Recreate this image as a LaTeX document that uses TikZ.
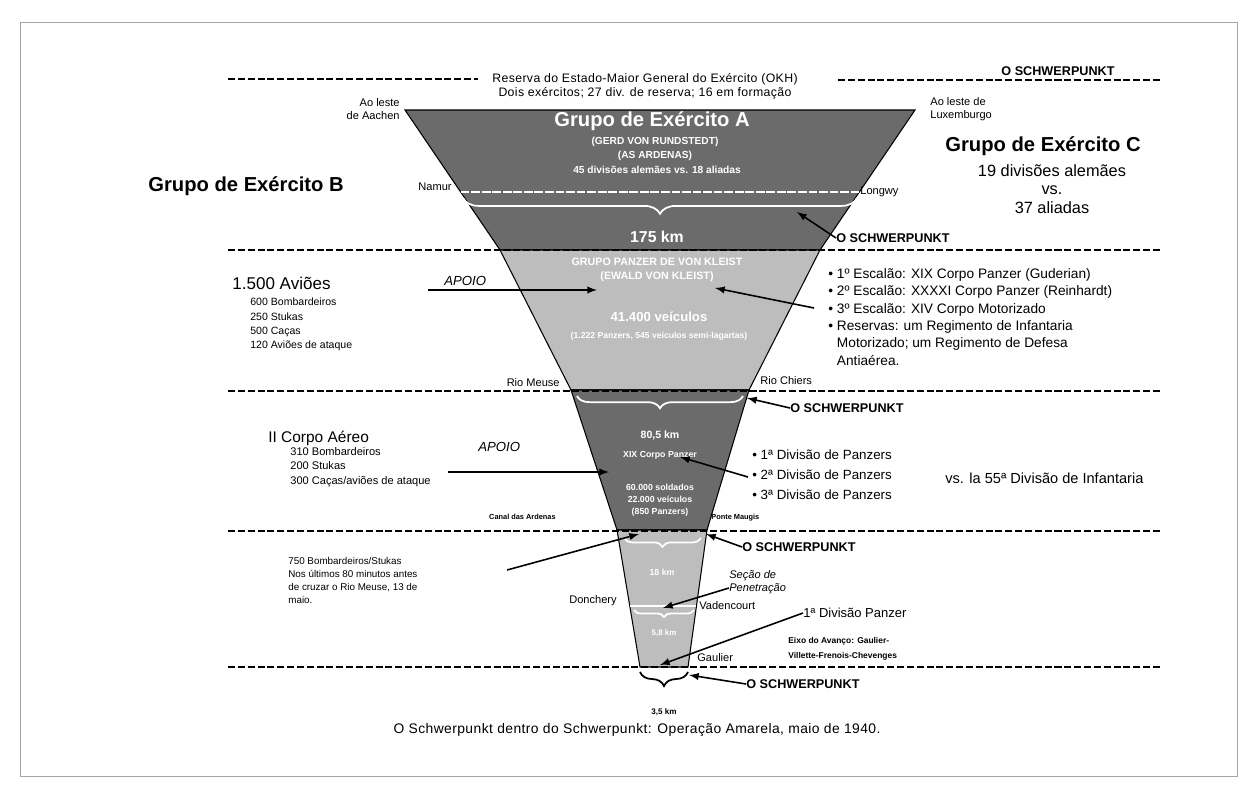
\documentclass[tikz,border=0pt]{standalone}
\usepackage{fontspec}
\setmainfont{Liberation Sans}
\newfontfamily\scanfont[LetterSpace=3]{Liberation Sans}
\usetikzlibrary{positioning,calc,arrows,decorations.pathreplacing}

\begin{document}
\begin{tikzpicture}[
  x=0.02cm,y=-0.02cm,
  every node/.style={inner sep=0pt,font=\fontsize{6}{8}\selectfont},
  band-dark/.style={fill=black!58,draw=black,line width=0.6pt},
  band-light/.style={fill=black!26,draw=black,line width=0.6pt},
  cut-line/.style={draw,line width=0.8pt,dash pattern=on 4pt off 1.6pt},
  pt-arrow/.style={draw,line width=0.9pt,-latex},
  white-brace/.style={draw=white,line width=1pt,decorate,decoration={brace,mirror,amplitude=#1}},
  band-text/.style={text=white,font=\bfseries\fontsize{5.8}{7}\selectfont,align=center},
  big-title/.style={font=\bfseries\fontsize{11.5}{13}\selectfont},
  mid-title/.style={font=\fontsize{9.3}{10.5}\selectfont},
  small-list/.style={font=\fontsize{6}{8}\selectfont,align=left},
  bullet-list/.style={font=\fontsize{7.8}{9.9}\selectfont,align=left},
  place-name/.style={font=\fontsize{6.3}{7.8}\selectfont},
  tiny-place/.style={font=\bfseries\fontsize{4.2}{5}\selectfont},
  sp-label/.style={font=\bfseries\fontsize{7.2}{8}\selectfont},
  apoio/.style={font=\itshape\fontsize{7.5}{9}\selectfont},
  ]

  \useasboundingbox (0,0) rectangle (1256,794);
  \draw [black!35,line width=0.5pt] (20,22) rectangle (1237,776);

  % funnel corners
  \coordinate (f1-tl) at (405,110);  \coordinate (f1-tr) at (915,110);
  \coordinate (f1-bl) at (500,250);  \coordinate (f1-br) at (820,250);
  \coordinate (f2-bl) at (571,390);  \coordinate (f2-br) at (749,390);
  \coordinate (f3-bl) at (617,530);  \coordinate (f3-br) at (707,530);
  \coordinate (f4-bl) at (640,667);  \coordinate (f4-br) at (688,667);

  \path [band-dark]  (f1-tl) -- (f1-tr) -- (f1-br) -- (f1-bl) -- cycle;
  \path [band-light] (f1-bl) -- (f1-br) -- (f2-br) -- (f2-bl) -- cycle;
  \path [band-dark]  (f2-bl) -- (f2-br) -- (f3-br) -- (f3-bl) -- cycle;
  \path [band-light] (f3-bl) -- (f3-br) -- (f4-br) -- (f4-bl) -- cycle;

  % Namur -- Longwy line and the section line in the last band
  \draw [white,line width=1.2pt,dash pattern=on 5pt off 1pt] ($(f1-tl)!0.586!(f1-bl)$) -- ($(f1-tr)!0.586!(f1-br)$);
  \draw [white,line width=1pt] ($(f3-bl)!0.555!(f4-bl)$) -- ($(f3-br)!0.555!(f4-br)$);

  % braces
  \draw [white-brace=9pt]  (463,198) -- (857,198);
  \draw [white-brace=7pt]  (577,396) -- (743,396);
  \draw [white-brace=5pt]  (624,538) -- (701,538);
  \draw [white-brace=4pt]  (634,610) -- (694,610);
  \draw [line width=1pt,decorate,decoration={brace,mirror,amplitude=8pt}] (640,672) -- (688,672);

  % horizontal cuts
  \draw [cut-line] (228,79) -- (478,79);
  \draw [cut-line] (838,80) -- (1160,80);
  \foreach \ycut in {250,391,531,667}
    \draw [cut-line] (228,\ycut) -- (1160,\ycut);

  % top
  \node [align=center,font=\scanfont\fontsize{7}{8}\selectfont] (okh) at (645,86)
    {Reserva do Estado-Maior General do Exército (OKH)\\Dois exércitos; 27 div. de reserva; 16 em formação};
  \node [sp-label,anchor=south] (sp-top) at (1058,76) {O SCHWERPUNKT};
  \node [place-name,align=right,anchor=east] (aachen) at (400,109) {Ao leste\\de Aachen};
  \node [place-name,align=left,anchor=west] (luxemb) at (930,109) {Ao leste de\\Luxemburgo};

  % Grupo de Exercito A
  \node [big-title,text=white] (grp-a) at (652,121) {Grupo de Exército A};
  \node [band-text] (grp-a-cmd) at (655,142) {(GERD VON RUNDSTEDT)};
  \node [band-text] (grp-a-ard) at (655,156) {(AS ARDENAS)};
  \node [band-text] (grp-a-div) at (657,170) {45 divisões alemães vs. 18 aliadas};
  \node [place-name,anchor=east] (namur) at (452,187) {Namur};
  \node [place-name,anchor=west] (longwy) at (860,192) {Longwy};
  \node [text=white,font=\bfseries\fontsize{9}{10}\selectfont] (km-175) at (657,237) {175 km};

  % Grupo de Exercito B / C
  \node [big-title,anchor=west] (grp-b) at (148,186) {Grupo de Exército B};
  \node [big-title,anchor=west] (grp-c) at (945,146) {Grupo de Exército C};
  \node [mid-title,align=center] (grp-c-div) at (1052,189) {19 divisões alemães\\vs.\\37 aliadas};

  \node [sp-label,anchor=west] (sp-1) at (836,238) {O SCHWERPUNKT};
  \coordinate (sp-1-tip) at (797,212);
  \draw [pt-arrow] (sp-1.west) -- (sp-1-tip);

  % Grupo Panzer
  \node [band-text,font=\bfseries\fontsize{6.1}{7}\selectfont] (kleist) at (657,262) {GRUPO PANZER DE VON KLEIST};
  \node [band-text,font=\bfseries\fontsize{6.1}{7}\selectfont] (kleist-cmd) at (657,277) {(EWALD VON KLEIST)};
  \node [band-text,font=\bfseries\fontsize{7.5}{9}\selectfont] (veh) at (659,317) {41.400 veículos};
  \node [band-text,font=\bfseries\fontsize{4.9}{6}\selectfont] (veh-det) at (659,336) {(1.222 Panzers, 545 veículos semi-lagartas)};

  \node [mid-title,anchor=west,font=\fontsize{9.7}{11}\selectfont] (avioes) at (232,283) {1.500 Aviões};
  \node [small-list,anchor=north west] (avioes-list) at (250,298)
    {600 Bombardeiros\\250 Stukas\\500 Caças\\120 Aviões de ataque};
  \node [apoio,anchor=west] (apoio-1) at (444,281) {APOIO};
  \coordinate (apoio-1-from) at (428,290);
  \coordinate (apoio-1-tip) at (597,290);
  \draw [pt-arrow] (apoio-1-from) -- (apoio-1-tip);

  \node [bullet-list,anchor=north west] (escaloes) at (828,268)
    {• 1º Escalão: XIX Corpo Panzer (Guderian)\\
     • 2º Escalão: XXXXI Corpo Panzer (Reinhardt)\\
     • 3º Escalão: XIV Corpo Motorizado\\
     • Reservas: um Regimento de Infantaria\\
     \phantom{• }Motorizado; um Regimento de Defesa\\
     \phantom{• }Antiaérea.};
  \coordinate (esc-from) at (814,308);
  \coordinate (esc-tip) at (715,288);
  \draw [pt-arrow] (esc-from) -- (esc-tip);

  \node [place-name,anchor=east] (meuse) at (560,383) {Rio Meuse};
  \node [place-name,anchor=west] (chiers) at (760,381) {Rio Chiers};

  % XIX Corpo Panzer
  \node [sp-label,anchor=west] (sp-2) at (790,408) {O SCHWERPUNKT};
  \coordinate (sp-2-tip) at (747,398);
  \draw [pt-arrow] (sp-2.west) -- (sp-2-tip);

  \node [band-text,font=\bfseries\fontsize{6}{7}\selectfont] (km-80) at (660,435) {80,5 km};
  \node [band-text,font=\bfseries\fontsize{5}{6}\selectfont] (xix) at (660,455) {XIX Corpo Panzer};
  \node [band-text,font=\bfseries\fontsize{5}{6.8}\selectfont] (xix-det) at (660,500)
    {60.000 soldados\\22.000 veículos\\(850 Panzers)};

  \node [mid-title,anchor=west,font=\fontsize{8.8}{10}\selectfont] (corpo-aereo) at (268,438) {II Corpo Aéreo};
  \node [small-list,anchor=north west,font=\fontsize{6.3}{8.2}\selectfont] (aereo-list) at (290,447)
    {310 Bombardeiros\\200 Stukas\\300 Caças/aviões de ataque};
  \node [apoio,anchor=west] (apoio-2) at (478,447) {APOIO};
  \coordinate (apoio-2-from) at (448,472);
  \coordinate (apoio-2-tip) at (609,472);
  \draw [pt-arrow] (apoio-2-from) -- (apoio-2-tip);

  \node [bullet-list,font=\fontsize{7.6}{11.6}\selectfont,anchor=north west] (divisoes) at (752,449)
    {• 1ª Divisão de Panzers\\• 2ª Divisão de Panzers\\• 3ª Divisão de Panzers};
  \coordinate (div-from) at (748,477);
  \coordinate (div-tip) at (680,457);
  \draw [pt-arrow] (div-from) -- (div-tip);
  \node [bullet-list,font=\fontsize{8.3}{10}\selectfont,anchor=west] (inf-55) at (945,478) {vs. la 55ª Divisão de Infantaria};

  \node [tiny-place,anchor=east] (canal) at (556,517) {Canal das Ardenas};
  \node [tiny-place,anchor=west] (maugis) at (711,518) {Ponte Maugis};

  % last band
  \node [sp-label,anchor=west] (sp-3) at (742,547) {O SCHWERPUNKT};
  \coordinate (sp-3-tip) at (706,534);
  \draw [pt-arrow] (sp-3.west) -- (sp-3-tip);

  \node [small-list,anchor=north west,font=\fontsize{5.6}{7.4}\selectfont] (stukas) at (288,557)
    {750 Bombardeiros/Stukas\\Nos últimos 80 minutos antes\\de cruzar o Rio Meuse, 13 de\\maio.};
  \coordinate (stukas-from) at (507,570);
  \coordinate (stukas-tip) at (639,534);
  \draw [pt-arrow] (stukas-from) -- (stukas-tip);

  \node [band-text,font=\bfseries\fontsize{5}{6}\selectfont] (km-18) at (662,572) {18 km};
  \node [band-text,font=\bfseries\fontsize{4.5}{6}\selectfont] (km-58) at (664,633) {5,8 km};
  \node [place-name,anchor=east] (donchery) at (617,601) {Donchery};
  \node [place-name,anchor=west] (vadencourt) at (699,606) {Vadencourt};

  \node [apoio,font=\itshape\fontsize{6.3}{7.6}\selectfont,align=left,anchor=west] (secao) at (729,582) {Seção de\\Penetração};
  \coordinate (secao-tip) at (663,608);
  \draw [pt-arrow] (secao.west) ++(0,6) -- (secao-tip);

  \node [bullet-list,font=\fontsize{7.4}{9}\selectfont,anchor=west] (div-1) at (803,613) {1ª Divisão Panzer};
  \coordinate (div-1-tip) at (660,665);
  \draw [pt-arrow] (div-1.west) -- (div-1-tip);
  \node [font=\bfseries\fontsize{4.8}{8.5}\selectfont,align=left,anchor=north west] (eixo) at (788,637)
    {Eixo do Avanço: Gaulier-\\Villette-Frenois-Chevenges};
  \node [place-name,anchor=west] (gaulier) at (697,658) {Gaulier};

  \node [sp-label,anchor=west] (sp-4) at (746,684) {O SCHWERPUNKT};
  \coordinate (sp-4-tip) at (689,675);
  \draw [pt-arrow] (sp-4.west) -- (sp-4-tip);
  \node [font=\bfseries\fontsize{4.6}{6}\selectfont] (km-35) at (664,712) {3,5 km};

  \node [font=\scanfont\fontsize{7.9}{9}\selectfont] (caption) at (637,730)
    {O Schwerpunkt dentro do Schwerpunkt: Operação Amarela, maio de 1940.};

\end{tikzpicture}
\end{document}
